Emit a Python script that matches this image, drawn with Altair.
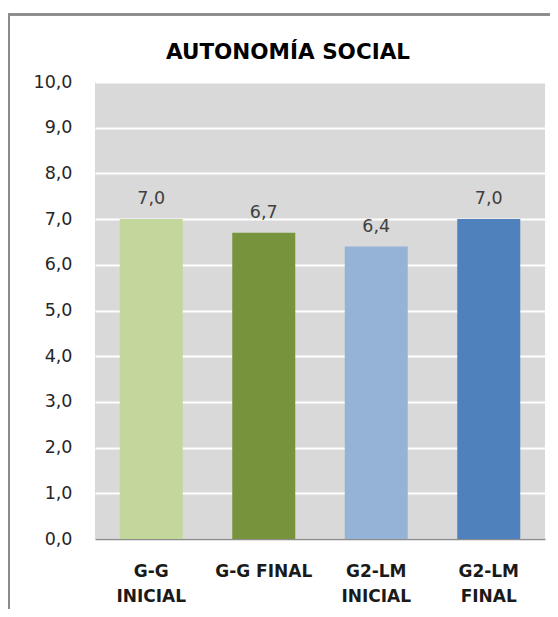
import altair as alt
import pandas as pd

title_text = "AUTONOMÍA SOCIAL"
categories = ["G-G|INICIAL", "G-G FINAL", "G2-LM|INICIAL", "G2-LM|FINAL"]
values = [7.0, 6.7, 6.4, 7.0]
colors = ["#C3D69B", "#77933C", "#95B3D7", "#4F81BD"]

df = pd.DataFrame({"cat": categories, "val": values, "color": colors})
tdf = pd.DataFrame({"t": [title_text]})

FONT = "DejaVu Sans"

x_enc = alt.X(
    "cat:N", sort=categories, title=None,
    scale=alt.Scale(paddingInner=0.44, paddingOuter=0.22),
    axis=alt.Axis(labelExpr="split(datum.label, '|')", labelAngle=0,
                  labelFontWeight="bold", labelFontSize=17, labelFont=FONT,
                  labelColor="#1a1a1a", labelPadding=32, labelLineHeight=25.5,
                  ticks=False, domainColor="#8c8c8c", domainWidth=1.5,
                  grid=False, labelBaseline="middle"),
)
y_enc = alt.Y(
    "val:Q", title=None,
    scale=alt.Scale(domain=[0, 10], nice=False),
    axis=alt.Axis(values=list(range(0, 11)),
                  labelExpr="replace(format(datum.value, '.1f'), '.', ',')",
                  labelFontSize=17.5, labelFont=FONT, labelColor="#262626",
                  labelPadding=23, ticks=False, domain=False,
                  gridColor="white", gridWidth=2),
)

bars = alt.Chart(df).mark_bar().encode(
    x=x_enc, y=y_enc,
    color=alt.Color("color:N", scale=None),
)

labels = alt.Chart(df).transform_calculate(
    lab="replace(format(datum.val, '.1f'), '.', ',')"
).mark_text(baseline="alphabetic", dy=-15, fontSize=17.5, font=FONT, color="#404040").encode(
    x=alt.X("cat:N", sort=categories),
    y=alt.Y("val:Q"),
    text="lab:N",
)

title = alt.Chart(tdf).mark_text(
    font=FONT, fontSize=21.5, fontWeight="bold", color="#000000",
    align="center", baseline="alphabetic", clip=False,
).encode(x=alt.value(193), y=alt.value(-23), text="t:N")

border_left = alt.Chart(df).mark_rule(color="#8a8a8a", strokeWidth=2, clip=False).encode(
    x=alt.value(-86), y=alt.value(-67.5), y2=alt.value(600)
)
border_top = alt.Chart(df).mark_rule(color="#8a8a8a", strokeWidth=2, clip=False).encode(
    x=alt.value(-87), x2=alt.value(600), y=alt.value(-67.5)
)

chart = alt.layer(bars, labels, title, border_left, border_top).properties(
    width=450, height=457,
    autosize=alt.AutoSizeParams(type="none"),
    padding={"left": 87, "top": 74, "right": 5, "bottom": 70},
).configure(background="white").configure_view(fill="#D9D9D9", stroke=None)

chart.save("out.html", embed_options={"renderer": "svg", "actions": False})
